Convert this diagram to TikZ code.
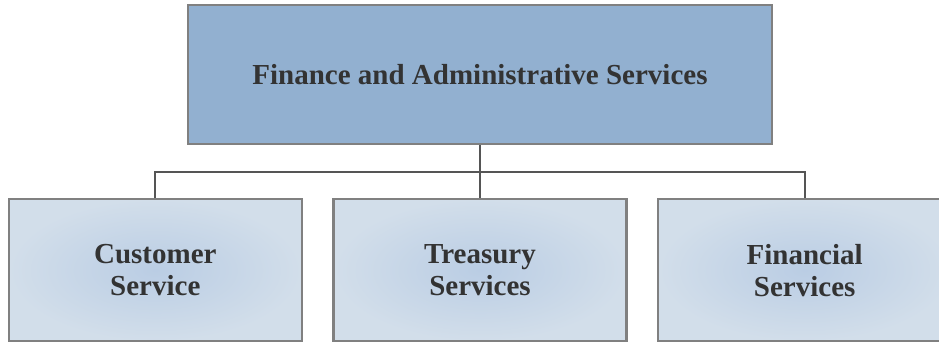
\documentclass[tikz,border=0pt]{standalone}
\usepackage{fontspec}
\setmainfont{Liberation Serif}
\usetikzlibrary{positioning, shadings, calc}
\definecolor{colHead}  {RGB}{146, 176, 208}
\definecolor{colInner} {RGB}{186, 205, 228}
\definecolor{colOuter} {RGB}{210, 222, 234}
\definecolor{colEdge}  {RGB}{128, 128, 128}
\definecolor{colLink}  {RGB}{ 85,  85,  85}
\definecolor{colText}  {RGB}{ 51,  51,  51}
\tikzset{
  headbox/.style={
    rectangle, draw=colEdge, line width=2.2pt, fill=colHead,
    text=colText, font=\fontsize{29}{32}\selectfont\bfseries,
    minimum width=584pt, minimum height=139pt,
    align=center, inner sep=0pt
  },
  unitbox/.style={
    rectangle, draw=colEdge, line width=2.2pt,
    inner color=colInner, outer color=colOuter,
    text=colText, font=\fontsize{29}{32}\selectfont\bfseries,
    minimum width=293pt, minimum height=142pt,
    align=center, inner sep=0pt
  },
  link/.style={
    draw=colLink, line width=2.2pt
  },
}
\begin{document}
\begin{tikzpicture}

\useasboundingbox (0pt,0pt) rectangle (939pt,-343pt);

%% top unit
\node[headbox] (fas) at (480pt,-74.5pt) {Finance and Administrative Services};

%% bottom units
\node[unitbox, below=53pt of fas] (trs) {Treasury\\Services};
\node[unitbox, left=29.5pt of trs] (cus) {Customer\\Service};
\node[unitbox, right=29.5pt of trs] (fin) {Financial\\Services};

%% connectors
\coordinate (bus) at ($(fas.south)+(0,-27pt)$);
\draw[link] (fas.south) -- (trs.north);
\draw[link] (cus.north) |- (bus) -| (fin.north);

\end{tikzpicture}
\end{document}
